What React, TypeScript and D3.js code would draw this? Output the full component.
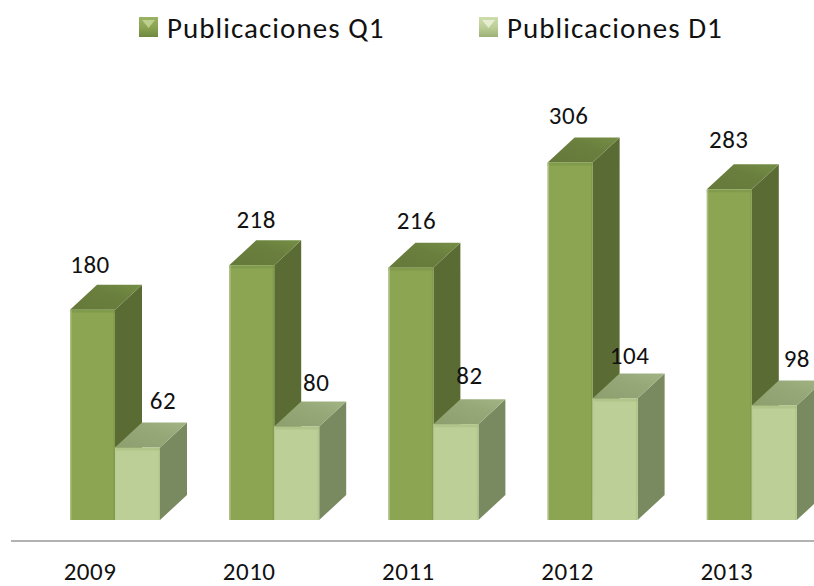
import React from "react";
import * as d3 from "d3";

const years = ["2009", "2010", "2011", "2012", "2013"];
const q1Values = [180, 218, 216, 306, 283];
const d1Values = [62, 80, 82, 104, 98];
const seriesNames = ["Publicaciones Q1", "Publicaciones D1"];
// manual data-label placement, as in the original (offset from the bar's left edge / gap above the bar's back edge)
const q1LabelDx = [20, 27, 28, 21, 22];
const d1LabelDx = [48, 42, 36, 37, 45];
const q1LabelGap = [12, 12, 14, 14, 16];
const d1LabelGap = [14, 11, 15, 9, 14];

const W = 814, H = 586;
const baseY = 520, depthX = 27, depthY = 25, barW = 45;
const fontFamily = "Carlito, Lato, 'Open Sans', sans-serif";

const x = d3.scaleBand().domain(years).range([35.4, 831.4]).padding(0);
const y = d3.scaleLinear().domain([0, 306]).range([baseY, 162.5]);

function Bar3D({ x0, v, front, top, side, id }: any) {
  const yt = y(v);
  const path = d3.path();
  path.moveTo(x0, yt);
  path.lineTo(x0 + depthX, yt - depthY);
  path.lineTo(x0 + barW + depthX, yt - depthY);
  path.lineTo(x0 + barW, yt);
  path.closePath();
  const sp = d3.path();
  sp.moveTo(x0 + barW, yt);
  sp.lineTo(x0 + barW + depthX, yt - depthY);
  sp.lineTo(x0 + barW + depthX, baseY - depthY);
  sp.lineTo(x0 + barW, baseY);
  sp.closePath();
  return (
    <g>
      <path d={sp.toString()} fill={side} />
      <path d={path.toString()} fill={`url(#${id})`} />
      <rect x={x0} y={yt} width={barW} height={baseY - yt} fill={front} />
      <rect x={x0} y={yt} width={barW} height={3} fill={top} opacity={0.55} />
      <rect x={x0} y={yt} width={1.5} height={baseY - yt} fill="#b9cb96" opacity={0.7} />
      <rect x={x0 + barW - 1.5} y={yt} width={1.5} height={baseY - yt} fill={top} opacity={0.5} />
    </g>
  );
}

export default function App() {
  const textProps = { fontFamily, fontSize: 25, letterSpacing: 0.5, fill: "#111", textAnchor: "middle" as const };
  return (
    <svg width={W} height={H} viewBox={`0 0 ${W} ${H}`} style={{ position: "absolute", left: 0, top: 0, background: "#fff" }}>
      <defs>
        <linearGradient id="topQ" x1="0" y1="1" x2="1" y2="0">
          <stop offset="0" stopColor="#65793a" />
          <stop offset="0.6" stopColor="#6a7f3e" />
          <stop offset="1" stopColor="#758f45" />
        </linearGradient>
        <linearGradient id="topD" x1="0" y1="1" x2="1" y2="0">
          <stop offset="0" stopColor="#8d9f6d" />
          <stop offset="0.6" stopColor="#96a878" />
          <stop offset="1" stopColor="#a2b484" />
        </linearGradient>
        <linearGradient id="legQ" x1="0" y1="0" x2="0" y2="1">
          <stop offset="0" stopColor="#9ab264" />
          <stop offset="0.5" stopColor="#8ba552" />
          <stop offset="1" stopColor="#6f8840" />
        </linearGradient>
        <linearGradient id="legD" x1="0" y1="0" x2="0" y2="1">
          <stop offset="0" stopColor="#cfddae" />
          <stop offset="0.5" stopColor="#bccf96" />
          <stop offset="1" stopColor="#9db078" />
        </linearGradient>
      </defs>

      {years.map((yr, i) => {
        const x0 = x(yr)! + (x.bandwidth() - 2 * barW) / 2;
        return (
          <g key={yr}>
            <Bar3D x0={x0} v={q1Values[i]} front="#8ba552" top="#7a9448" side="#5a6b33" id="topQ" />
            <Bar3D x0={x0 + barW} v={d1Values[i]} front="#bccf96" top="#a8bb82" side="#7a8a60" id="topD" />
            <text {...textProps} x={x0 + q1LabelDx[i]} y={y(q1Values[i]) - depthY - q1LabelGap[i]}>{q1Values[i]}</text>
            <text {...textProps} x={x0 + barW + d1LabelDx[i]} y={y(d1Values[i]) - depthY - d1LabelGap[i]}>{d1Values[i]}</text>
            <text {...textProps} x={x0 + 20} y={580}>{yr}</text>
          </g>
        );
      })}

      <line x1={11} x2={W} y1={541} y2={541} stroke="#b2b2b2" strokeWidth={2} />

      {seriesNames.map((name, i) => {
        const lx = i === 0 ? 139 : 479;
        return (
          <g key={name}>
            <rect x={lx} y={17} width={19} height={20} fill={i === 0 ? "url(#legQ)" : "url(#legD)"} />
            <path d={`M${lx + 3},20 H${lx + 16} L${lx + 9.5},28 Z`} fill={i === 0 ? "#c8d89a" : "#eef3dc"} opacity={0.8} />
            <text x={lx + 28} y={38} fontFamily={fontFamily} fontSize={29} letterSpacing={1.05} fill="#111">{name}</text>
          </g>
        );
      })}
    </svg>
  );
}
